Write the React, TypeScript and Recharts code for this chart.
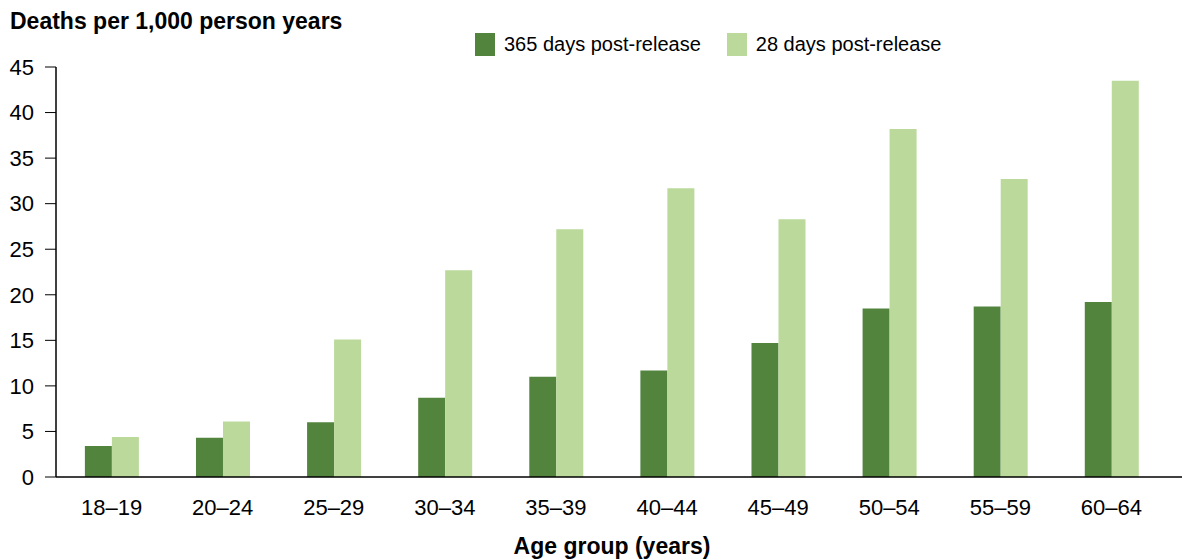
import React from 'react';
import { BarChart, Bar, XAxis, YAxis } from 'recharts';

const ageGroups = ['18\u201319', '20\u201324', '25\u201329', '30\u201334', '35\u201339', '40\u201344', '45\u201349', '50\u201354', '55\u201359', '60\u201364'];
const days365 = [3.4, 4.3, 6.0, 8.7, 11.0, 11.7, 14.7, 18.5, 18.7, 19.2];
const days28 = [4.4, 6.1, 15.1, 22.7, 27.2, 31.7, 28.3, 38.2, 32.7, 43.5];
const yTicks = [0, 5, 10, 15, 20, 25, 30, 35, 40, 45];

const DARK = '#53843e';
const LIGHT = '#bad99b';
const FONT = '"Liberation Sans", Arial, sans-serif';

const series = [
  { key: 'd365', name: '365 days post-release', color: DARK },
  { key: 'd28', name: '28 days post-release', color: LIGHT },
];

const chartData = ageGroups.map((age, i) => ({
  age,
  d365: days365[i],
  d28: days28[i],
}));

const App: React.FC = () => {
  return (
    <div style={{ position: 'absolute', left: 0, top: 0, width: 1182, height: 559, background: '#fff', fontFamily: FONT }}>
      <div style={{ position: 'absolute', left: 10, top: 8, fontSize: 23, fontWeight: 'bold', color: '#000' }}>
        Deaths per 1,000 person years
      </div>
      <div style={{ position: 'absolute', left: 475, top: 33, display: 'flex', alignItems: 'center', fontSize: 20, color: '#000' }}>
        {series.map((s) => (
          <div key={s.key} style={{ display: 'flex', alignItems: 'center', marginRight: 26 }}>
            <span style={{ display: 'inline-block', width: 20, height: 23, background: s.color, marginRight: 9 }} />
            <span>{s.name}</span>
          </div>
        ))}
      </div>
      <div style={{ position: 'absolute', left: 0, width: 1224, top: 533, textAlign: 'center', fontSize: 23, fontWeight: 'bold', color: '#000' }}>
        Age group (years)
      </div>
      <BarChart
        width={1182}
        height={559}
        data={chartData}
        margin={{ top: 67, right: 0, left: 0, bottom: 0 }}
        barCategoryGap="26%"
        barGap={0}
      >
        <XAxis
          dataKey="age"
          height={82}
          padding={{ left: 0, right: 15 }}
          tickLine={false}
          axisLine={{ stroke: '#000', strokeWidth: 1.5 }}
          tick={{ fontSize: 22, fill: '#000', fontFamily: FONT }}
          tickMargin={16}
          interval={0}
        />
        <YAxis
          width={56}
          domain={[0, 45]}
          ticks={yTicks}
          tickSize={11}
          tickMargin={11}
          tickLine={{ stroke: '#000' }}
          axisLine={{ stroke: '#000', strokeWidth: 1.5 }}
          tick={{ fontSize: 22, fill: '#000', fontFamily: FONT }}
          interval={0}
        />
        {series.map((s) => (
          <Bar key={s.key} dataKey={s.key} name={s.name} fill={s.color} isAnimationActive={false} />
        ))}
      </BarChart>
    </div>
  );
};

export default App;
